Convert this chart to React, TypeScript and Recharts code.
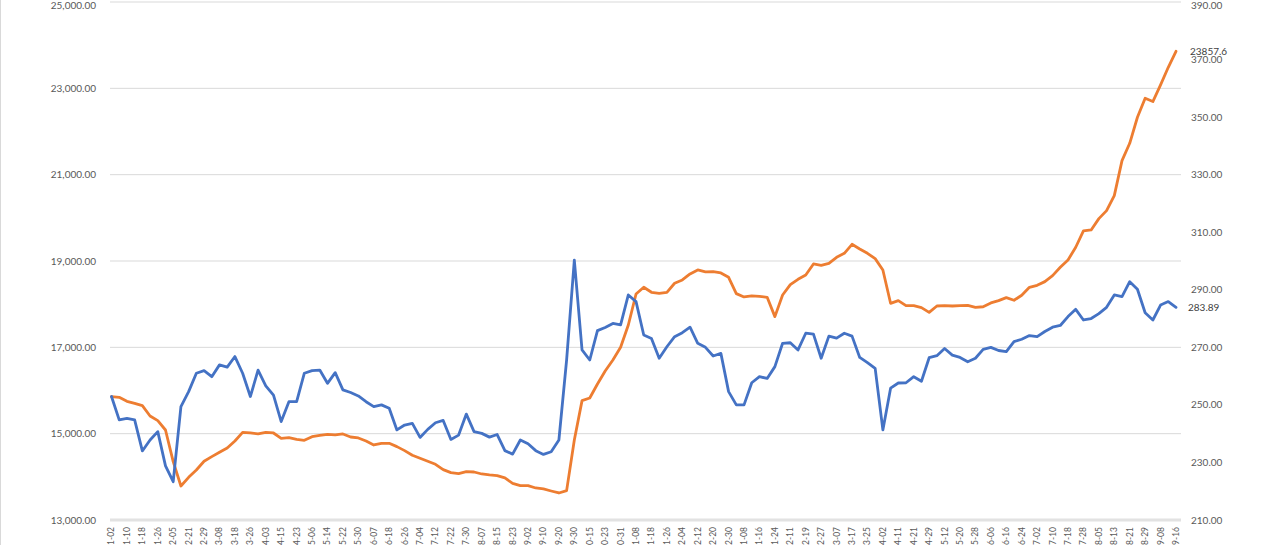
import React from 'react';
import { LineChart, Line, XAxis, YAxis, CartesianGrid } from 'recharts';

// sampled trading days (every third session), month-day per year
const days2024 = [
  '01-02', '01-05', '01-10', '01-15', '01-18', '01-23', '01-26', '01-31',
  '02-05', '02-08', '02-21', '02-26', '02-29',
  '03-05', '03-08', '03-13', '03-18', '03-21', '03-26', '03-29',
  '04-03', '04-10', '04-15', '04-18', '04-23', '04-26',
  '05-06', '05-09', '05-14', '05-17', '05-22', '05-27', '05-30',
  '06-04', '06-07', '06-13', '06-18', '06-21', '06-26',
  '07-01', '07-04', '07-09', '07-12', '07-17', '07-22', '07-25', '07-30',
  '08-02', '08-07', '08-12', '08-15', '08-20', '08-23', '08-28',
  '09-02', '09-05', '09-10', '09-13', '09-20', '09-25', '09-30',
  '10-10', '10-15', '10-18', '10-23', '10-28', '10-31',
  '11-05', '11-08', '11-13', '11-18', '11-21', '11-26', '11-29',
  '12-04', '12-09', '12-12', '12-17', '12-20', '12-25', '12-30',
];
const days2025 = [
  '01-03', '01-08', '01-13', '01-16', '01-21', '01-24',
  '02-06', '02-11', '02-14', '02-19', '02-24', '02-27',
  '03-04', '03-07', '03-12', '03-17', '03-20', '03-25', '03-28',
  '04-02', '04-08', '04-11', '04-16', '04-21', '04-24', '04-29',
  '05-07', '05-12', '05-15', '05-20', '05-23', '05-28',
  '06-03', '06-06', '06-11', '06-16', '06-19', '06-24', '06-27',
  '07-02', '07-07', '07-10', '07-15', '07-18', '07-23', '07-28', '07-31',
  '08-05', '08-08', '08-13', '08-18', '08-21', '08-26', '08-29',
  '09-03', '09-08', '09-11', '09-16',
];

// orange series, left axis
const indexValues = [
  15858, 15842, 15750, 15703, 15649, 15410, 15302, 15085, 14352, 13788,
  13989, 14159, 14360, 14468, 14568, 14668, 14831, 15031, 15016, 14993,
  15031, 15016, 14892, 14908, 14869, 14846, 14931, 14962, 14985, 14970,
  14993, 14923, 14900, 14831, 14738, 14776, 14776, 14700, 14607, 14499,
  14429, 14360, 14290, 14166, 14097, 14074, 14120, 14112, 14066, 14043,
  14028, 13974, 13850, 13796, 13796, 13742, 13719, 13672, 13626, 13680,
  14854, 15765, 15827, 16151, 16452, 16707, 17001, 17518, 18236, 18391,
  18275, 18252, 18275, 18484, 18561, 18700, 18792, 18746, 18754, 18723,
  18622, 18244, 18167, 18190, 18182, 18159, 17711, 18213, 18452, 18576,
  18676, 18931, 18900, 18947, 19086, 19178, 19387, 19279, 19178, 19055,
  18792, 18020, 18082, 17966, 17966, 17920, 17811, 17958, 17966, 17958,
  17966, 17974, 17928, 17940, 18028, 18082, 18152, 18090, 18206, 18391,
  18437, 18522, 18661, 18854, 19024, 19318, 19696, 19719, 19982, 20167,
  20515, 21326, 21727, 22330, 22770, 22693, 23079, 23488, 23857.6,
];

// blue series, right axis
const priceValues = [
  252.9, 244.8, 245.3, 244.8, 234.0, 237.8, 240.7, 228.8, 223.3, 249.4,
  254.6, 261.0, 261.9, 259.8, 263.9, 263.1, 266.8, 261.0, 252.9, 262.1,
  256.6, 253.4, 244.2, 251.1, 251.1, 261.0, 261.9, 262.1, 257.5, 261.2,
  255.2, 254.3, 253.1, 251.1, 249.4, 250.0, 248.8, 241.3, 243.0, 243.6,
  238.7, 241.5, 243.8, 244.6, 238.0, 239.5, 246.8, 240.7, 240.1, 238.8,
  239.7, 234.1, 232.9, 237.8, 236.5, 234.1, 232.8, 233.7, 237.8, 265.6,
  300.3, 269.1, 265.6, 275.8, 276.9, 278.3, 277.8, 288.2, 285.9, 274.3,
  273.1, 266.2, 270.2, 273.7, 275.1, 277.0, 271.4, 270.0, 267.0, 267.9,
  254.6, 250.0, 250.0, 257.7, 259.8, 259.2, 263.3, 271.4, 271.6, 269.1,
  274.9, 274.6, 266.2, 273.9, 273.2, 274.9, 273.9, 266.5, 264.7, 262.7,
  241.3, 255.8, 257.6, 257.7, 259.8, 258.2, 266.4, 267.1, 269.6, 267.3,
  266.5, 265.0, 266.2, 269.3, 270.0, 268.9, 268.5, 272.0, 272.8, 274.1,
  273.7, 275.5, 277.0, 277.6, 280.7, 283.2, 279.5, 280.0, 281.7, 283.9,
  288.2, 287.6, 292.8, 290.2, 282.0, 279.5, 284.7, 285.9, 283.89,
];

const leftTicks = [13000, 15000, 17000, 19000, 21000, 23000, 25000];
const rightTicks = [210, 230, 250, 270, 290, 310, 330, 350, 370, 390];

const categories = [
  ...days2024.map((d) => `2024-${d}`),
  ...days2025.map((d) => `2025-${d}`),
];

const data = categories.map((date, i) => ({
  date,
  index: indexValues[i],
  price: priceValues[i],
}));

const lastIdx = data.length - 1;
const FONT = 'Lato, "Open Sans", sans-serif';
const GREY = '#595959';

const fmtLeft = (v: number) =>
  v.toLocaleString('en-US', { minimumFractionDigits: 2, maximumFractionDigits: 2 });
const fmtRight = (v: number) => v.toFixed(2);

const DateTick = (props: any) => {
  const { x, y, payload } = props;
  return (
    <text
      x={x}
      y={y}
      transform={`rotate(-90, ${x}, ${y})`}
      textAnchor="end"
      dy="0.35em"
      fontSize={8.5}
      fill={GREY}
      fontFamily={FONT}
    >
      {payload.value}
    </text>
  );
};

const endLabel = (offset: number, color: string) => (props: any) => {
  const { x, y, index, value } = props;
  if (index !== lastIdx) return null;
  return (
    <text x={x + offset} y={y} dy="0.35em" fontSize={10} fill={color} fontFamily={FONT}>
      {value}
    </text>
  );
};

const App: React.FC = () => {
  return (
    <div
      style={{
        position: 'absolute',
        left: 0,
        top: 0,
        width: 1280,
        height: 545,
        overflow: 'hidden',
        background: '#fff',
        fontFamily: FONT,
      }}
    >
      <div style={{ position: 'absolute', left: 0, top: 0, width: 1, height: 545, background: '#d9d9d9' }} />
      <LineChart
        width={1280}
        height={545}
        data={data}
        margin={{ top: 2, right: 0, bottom: 0, left: 0 }}
      >
        <CartesianGrid yAxisId="left" vertical={false} stroke="#d9d9d9" />
        <XAxis
          dataKey="date"
          interval={1}
          height={25}
          padding={{ left: 1.5, right: 5 }}
          tickSize={0}
          tickMargin={7}
          tick={<DateTick />}
          axisLine={{ stroke: '#e2e2e2', strokeWidth: 3 }}
          tickLine={false}
        />
        <YAxis
          yAxisId="left"
          orientation="left"
          width={110}
          domain={[13000, 25000]}
          ticks={leftTicks}
          tickFormatter={fmtLeft}
          axisLine={false}
          tickLine={false}
          tickSize={0}
          tickMargin={14}
          tick={{ fontSize: 10, fill: GREY, fontFamily: FONT }}
        />
        <YAxis
          yAxisId="right"
          orientation="right"
          width={99}
          domain={[210, 390]}
          ticks={rightTicks}
          tickFormatter={fmtRight}
          axisLine={false}
          tickLine={false}
          tickSize={0}
          tickMargin={10}
          tick={{ fontSize: 10, fill: GREY, fontFamily: FONT, textAnchor: 'start' }}
        />
        <Line
          yAxisId="left"
          type="linear"
          dataKey="index"
          stroke="#ED7D31"
          strokeWidth={2.8}
          strokeLinejoin="round"
          strokeLinecap="round"
          dot={false}
          label={endLabel(14, '#404040')}
          isAnimationActive={false}
        />
        <Line
          yAxisId="right"
          type="linear"
          dataKey="price"
          stroke="#4472C4"
          strokeWidth={2.8}
          strokeLinejoin="round"
          strokeLinecap="round"
          dot={false}
          label={endLabel(12, '#404040')}
          isAnimationActive={false}
        />
      </LineChart>
    </div>
  );
};

export default App;
